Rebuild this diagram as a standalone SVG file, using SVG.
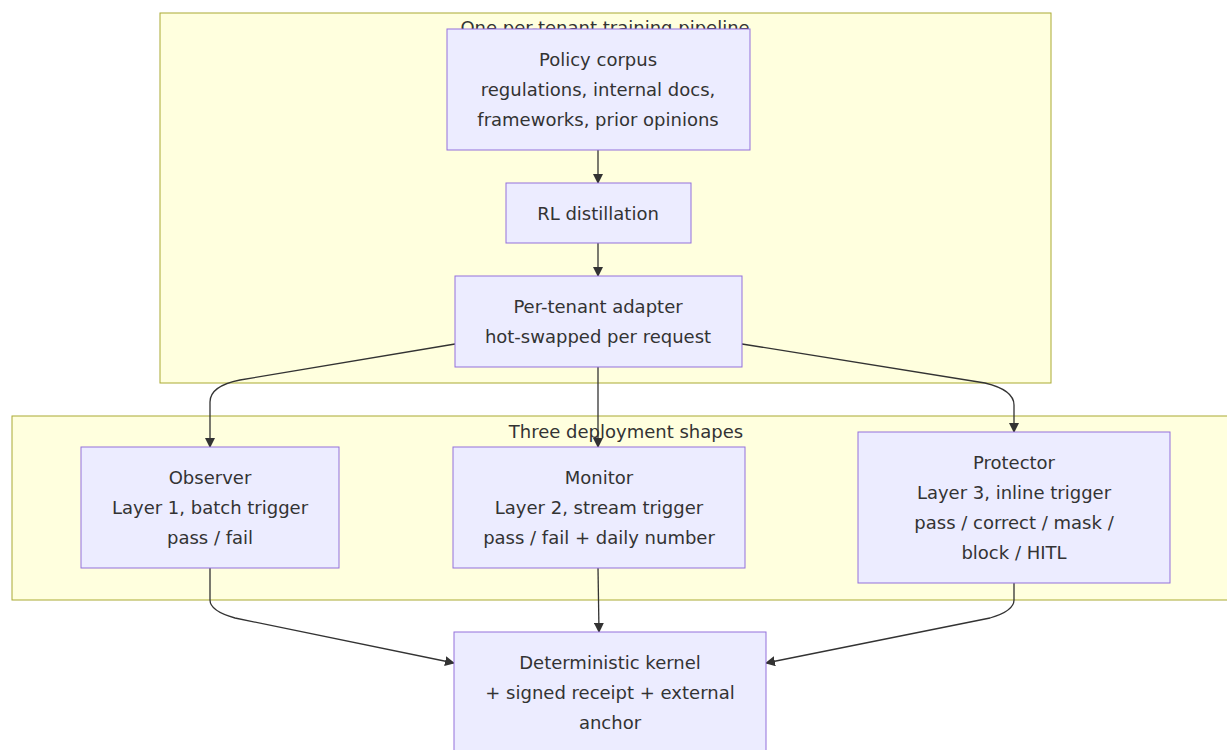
<svg xmlns="http://www.w3.org/2000/svg" width="1227" height="750" viewBox="0 0 1227 750">
<style>
.cluster{fill:#ffffde;stroke:#aaaa33;stroke-width:1}
.node{fill:#ececff;stroke:#9370db;stroke-width:1}
.t{font-family:"DejaVu Sans",sans-serif;font-size:18px;fill:#333;text-anchor:middle;dominant-baseline:central}
.e{fill:none;stroke:#333;stroke-width:1.3}
</style>
<defs>
<marker id="arr" viewBox="0 0 10 10" refX="9" refY="5" markerWidth="10" markerHeight="10" markerUnits="userSpaceOnUse" orient="auto">
<path d="M0,0 L10,5 L0,10 z" fill="#333"/>
</marker>
</defs>
<g id="cluster-pipeline">
<rect class="cluster" x="160" y="13" width="891" height="370"/>
<text class="t" x="605" y="27">One per-tenant training pipeline</text>
</g>
<g id="cluster-shapes">
<rect class="cluster" x="12" y="416" width="1230" height="184"/>
<text class="t" x="626" y="431">Three deployment shapes</text>
</g>
<g id="connectors">
<path class="e" d="M598,150 L598,183" marker-end="url(#arr)"/>
<path class="e" d="M598,243 L598,276" marker-end="url(#arr)"/>
<path class="e" d="M455,344 L240,380 Q210,386 210,402 L210,447" marker-end="url(#arr)"/>
<path class="e" d="M598,367 L598,447" marker-end="url(#arr)"/>
<path class="e" d="M742,344 L985,383 Q1014,390 1014,405 L1014,432" marker-end="url(#arr)"/>
<path class="e" d="M210,568 L210,600 Q210,611 235,618 L454,663" marker-end="url(#arr)"/>
<path class="e" d="M598,568 L599,632" marker-end="url(#arr)"/>
<path class="e" d="M1014,583 L1014,600 Q1014,611 990,618 L766,663" marker-end="url(#arr)"/>
</g>
<g id="node-corpus">
<rect class="node" x="447" y="29" width="303" height="121"/>
<text class="t" x="598" y="59">Policy corpus</text>
<text class="t" x="598" y="89">regulations, internal docs,</text>
<text class="t" x="598" y="119">frameworks, prior opinions</text>
</g>
<g id="node-rl">
<rect class="node" x="506" y="183" width="185" height="60"/>
<text class="t" x="598" y="213">RL distillation</text>
</g>
<g id="node-adapter">
<rect class="node" x="455" y="276" width="287" height="91"/>
<text class="t" x="598" y="306">Per-tenant adapter</text>
<text class="t" x="598" y="336">hot-swapped per request</text>
</g>
<g id="node-observer">
<rect class="node" x="81" y="447" width="258" height="121"/>
<text class="t" x="210" y="477">Observer</text>
<text class="t" x="210" y="507">Layer 1, batch trigger</text>
<text class="t" x="210" y="537">pass / fail</text>
</g>
<g id="node-monitor">
<rect class="node" x="453" y="447" width="292" height="121"/>
<text class="t" x="599" y="477">Monitor</text>
<text class="t" x="599" y="507">Layer 2, stream trigger</text>
<text class="t" x="599" y="537">pass / fail + daily number</text>
</g>
<g id="node-protector">
<rect class="node" x="858" y="432" width="312" height="151"/>
<text class="t" x="1014" y="462">Protector</text>
<text class="t" x="1014" y="492">Layer 3, inline trigger</text>
<text class="t" x="1014" y="522">pass / correct / mask /</text>
<text class="t" x="1014" y="552">block / HITL</text>
</g>
<g id="node-kernel">
<rect class="node" x="454" y="632" width="312" height="151"/>
<text class="t" x="610" y="662">Deterministic kernel</text>
<text class="t" x="610" y="692">+ signed receipt + external</text>
<text class="t" x="610" y="722">anchor</text>
</g>
</svg>
